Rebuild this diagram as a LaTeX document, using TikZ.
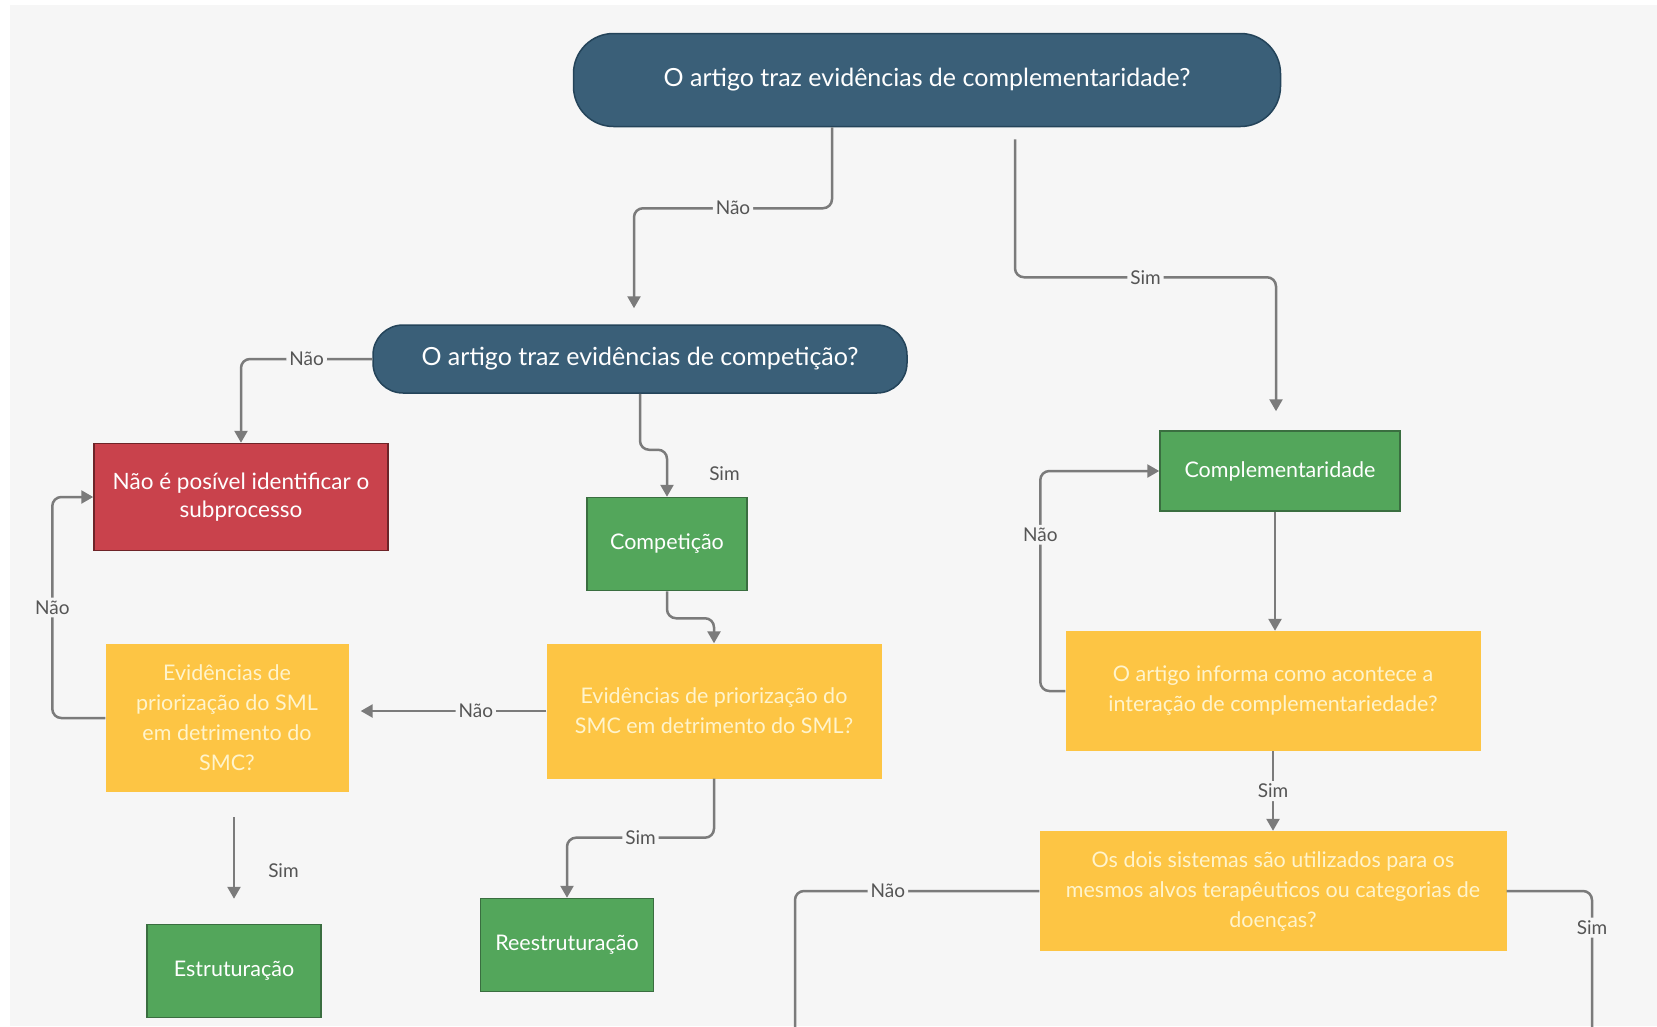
\documentclass[tikz,border=0pt]{standalone}
\usepackage{fontspec}
\setmainfont{Lato}
\usetikzlibrary{arrows.meta,calc}
\definecolor{bg}{HTML}{F6F6F6}
\definecolor{pillc}{HTML}{3A5F78}
\definecolor{pilld}{HTML}{24445A}
\definecolor{redc}{HTML}{C9424C}
\definecolor{redd}{HTML}{6E2428}
\definecolor{greenc}{HTML}{53A65B}
\definecolor{greend}{HTML}{3A6E40}
\definecolor{yelc}{HTML}{FDC544}
\definecolor{yeltxt}{HTML}{FFF4CC}
\definecolor{linec}{HTML}{7B7B7B}
\definecolor{lblc}{HTML}{555555}
\begin{document}
\begin{tikzpicture}[x=1pt,y=-1pt,
  box/.style={rectangle,align=center,inner sep=0pt,text=white,font=\fontsize{21.5}{28.5}\selectfont},
  pill/.style={box,fill=pillc,draw=pilld,line width=1.5pt,font=\fontsize{25}{30}\selectfont},
  redbox/.style={box,fill=redc,draw=redd,line width=1.5pt,font=\fontsize{22.5}{28.5}\selectfont},
  greenbox/.style={box,fill=greenc,draw=greend,line width=1.5pt},
  yelbox/.style={box,fill=yelc,text=yeltxt,font=\fontsize{21.5}{30}\selectfont},
  line/.style={draw=linec,line width=2.5pt,rounded corners=9pt},
  arr/.style={line,-{Triangle[width=13pt,length=12pt]}},
  txt/.style={text=lblc,font=\fontsize{19}{22}\selectfont,inner sep=3pt},
  lbl/.style={txt,fill=bg}]
\useasboundingbox (0,0) rectangle (1657,1026);
\fill[white] (0,0) rectangle (1657,1026);
\fill[bg] (10,5) rectangle (1657,1026);
% questions
\node[pill,rounded corners=40pt,minimum width=707pt,minimum height=93pt] (q1) at (927,80) {O artigo traz evidências de complementaridade?};
\node[pill,rounded corners=30pt,minimum width=534pt,minimum height=68pt] (q2) at (640,359) {O artigo traz evidências de competição?};
\node[redbox,minimum width=294pt,minimum height=107pt] (nao) at (241,497) {Não é posível identificar o\\subprocesso};
\node[greenbox,minimum width=160pt,minimum height=93pt] (comp) at (667,544) {Competição};
\node[greenbox,minimum width=240pt,minimum height=80pt] (compl) at (1280,471) {Complementaridade};
\node[yelbox,minimum width=243pt,minimum height=148pt] (sml) at (227,718) {Evidências de\\priorização do SML\\em detrimento do\\SMC?};
\node[yelbox,minimum width=335pt,minimum height=135pt] (smc) at (714,711) {Evidências de priorização do\\SMC em detrimento do SML?};
\node[yelbox,minimum width=415pt,minimum height=120pt] (inf) at (1273,691) {O artigo informa como acontece a\\interação de complementariedade?};
\node[yelbox,minimum width=467pt,minimum height=120pt] (dois) at (1273,891) {Os dois sistemas são utilizados para os\\mesmos alvos terapêuticos ou categorias de\\doenças?};
\node[greenbox,minimum width=174pt,minimum height=93pt] (estr) at (234,971) {Estruturação};
\node[greenbox,minimum width=173pt,minimum height=93pt] (reestr) at (567,945) {Reestruturação};
\coordinate (endL) at (795,1032);
\coordinate (endR) at (1592,1032);
% connectors
\draw[arr] ([xshift=-95pt]q1.south) -- ++(0,81) -| node[lbl,pos=.25]{Não} ([xshift=-6pt,yshift=16pt]q2.north);
\draw[arr] ([xshift=88pt,yshift=-12pt]q1.south) -- ++(0,138) -| node[lbl,pos=.25]{Sim} ([xshift=-4pt,yshift=19pt]compl.north);
\draw[arr] (q2.west) -| node[lbl,pos=.25]{Não} (nao.north);
\draw[arr] (q2.south) -- ++(0,56) -| node[txt,pos=.75,right=38pt]{Sim} (comp.north);
\draw[arr] (comp.south) -- ++(0,27) -| (smc.north);
\draw[arr] (smc.west) -- node[lbl,pos=.38]{Não} ([xshift=12pt]sml.east |- smc.west);
\draw[arr] (sml.west) -- ++(-53,0) |- node[lbl,pos=.25]{Não} (nao.west);
\draw[arr] ($(estr.north |- sml.south)+(0,25)$) -- node[txt,pos=.65,right=30pt]{Sim} ([yshift=25pt]estr.north);
\draw[arr] (smc.south) -- ++(0,59) -| node[lbl,pos=.25]{Sim} (reestr.north);
\draw[arr] ([xshift=-5pt]compl.south) -- ([xshift=-5pt]compl.south |- inf.north);
\draw[arr] (inf.west) -- ++(-25,0) |- node[lbl,pos=.355]{Não} (compl.west);
\draw[arr] (inf.south) -- node[lbl]{Sim} (dois.north);
\draw[line] (dois.west) -| node[lbl,pos=.31]{Não} (endL);
\draw[line] (dois.east) -| node[lbl,pos=.63]{Sim} (endR);
\end{tikzpicture}
\end{document}
